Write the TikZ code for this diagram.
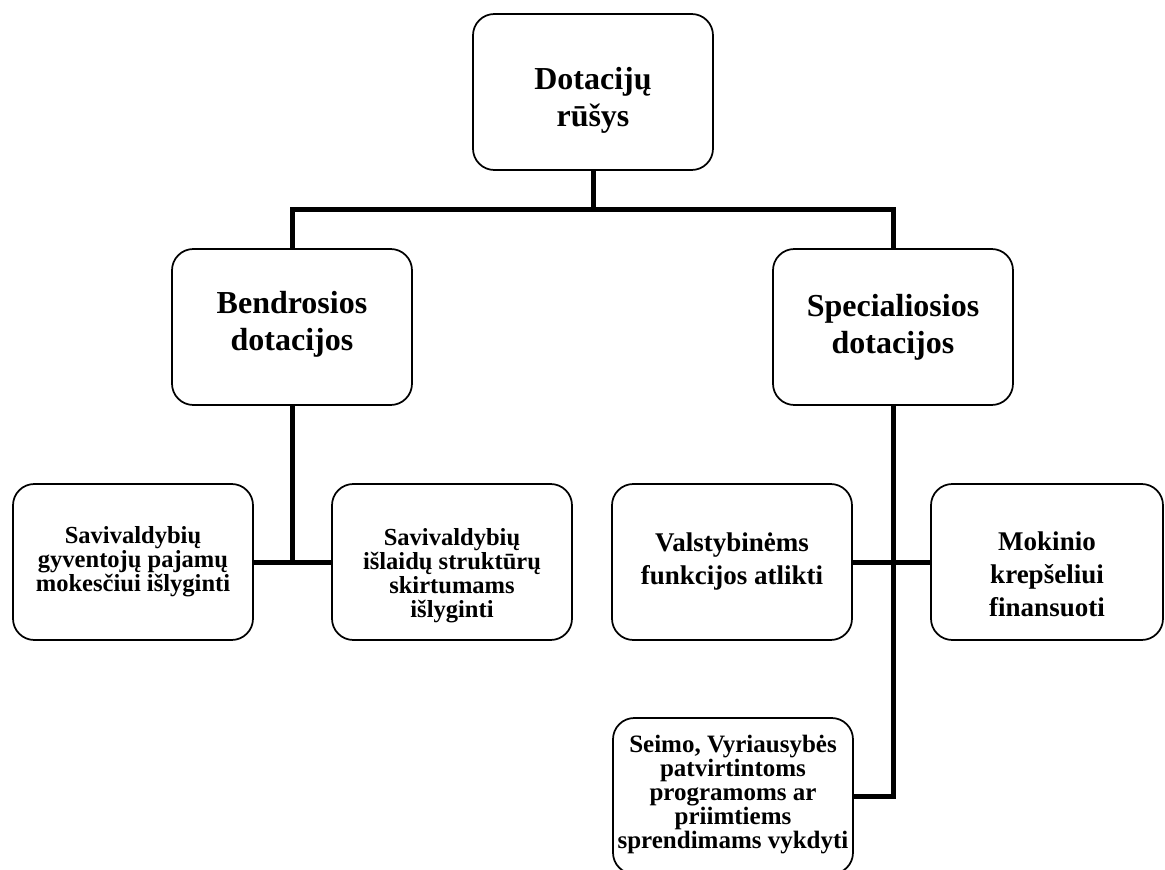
\documentclass[tikz,border=0pt]{standalone}
\usepackage{fontspec}
\setmainfont{Liberation Serif}

\tikzset{
  box/.style={draw, line width=1.3pt, rounded corners=16pt, minimum width=180pt, minimum height=117pt, inner sep=0pt},
  bigtext/.style={align=center, inner sep=0pt, font=\fontsize{24}{27.75}\selectfont\bfseries},
  smalltext/.style={align=center, inner sep=0pt, font=\fontsize{18.4}{18}\selectfont\bfseries},
  widetext/.style={align=center, inner sep=0pt, font=\fontsize{20.25}{24.75}\selectfont\bfseries},
  link/.style={line width=3.75pt}
}

\begin{document}
\begin{tikzpicture}[x=0.75pt,y=-0.75pt]
    \useasboundingbox (0,0) rectangle (1165,870);
    \clip (0,0) rectangle (1165,870);

    % Boxes
    \node[box] (kinds) at (593,92) {};
    \node[box] (general) at (292,327) {};
    \node[box] (special) at (893,327) {};
    \node[box] (income) at (133,562) {};
    \node[box] (costs) at (452,562) {};
    \node[box] (state) at (732,562) {};
    \node[box, minimum width=174pt] (pupil) at (1047,562) {};
    \node[box] (programs) at (733,796) {};

    % Texts
    \node[bigtext, yshift=-6pt] (kinds-text) at (kinds) {Dotacijų\\rūšys};
    \node[bigtext, yshift=2pt] (general-text) at (general) {Bendrosios\\dotacijos};
    \node[bigtext] (special-text) at (special) {Specialiosios\\dotacijos};
    \node[smalltext] (income-text) at (income) {Savivaldybių\\gyventojų pajamų\\mokesčiui išlyginti};
    \node[smalltext, yshift=-10pt] (costs-text) at (costs) {Savivaldybių\\išlaidų struktūrų\\skirtumams\\išlyginti};
    \node[widetext] (state-text) at (state) {Valstybinėms\\funkcijos atlikti};
    \node[widetext, yshift=-9pt] (pupil-text) at (pupil) {Mokinio\\krepšeliui\\finansuoti};
    \node[smalltext, font=\fontsize{18.75}{18}\selectfont\bfseries, yshift=1pt] (programs-text) at (programs) {Seimo, Vyriausybės\\patvirtintoms\\programoms ar\\priimtiems\\sprendimams vykdyti};

    % Connectors
    \coordinate (hub) at (593,210);
    \draw[link] (kinds.south) -- (hub);
    \draw[link] (general.north) |- (hub) -| (special.north);
    \draw[link] (general.south) -- (general.south |- income.east);
    \draw[link] (income.east) -- (costs.west);
    \draw[link] (special.south) |- (programs.east);
    \draw[link] (state.east) -- (pupil.west);
\end{tikzpicture}
\end{document}
